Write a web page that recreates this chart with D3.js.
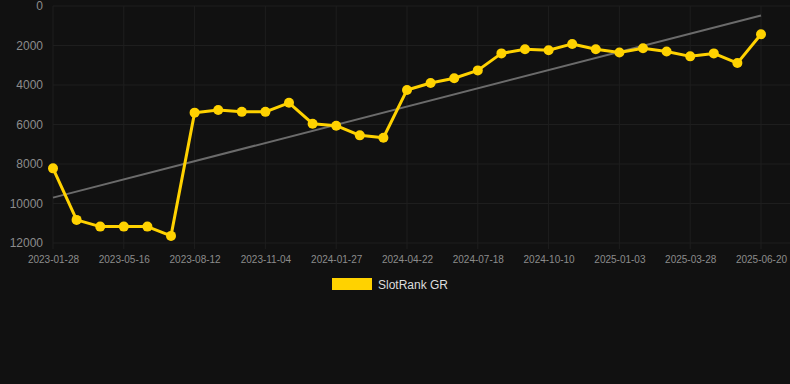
<!DOCTYPE html>
<html>
<meta charset="utf-8">
<head>
  <title>SlotRank GR</title>
</head>

<style>
body { margin: 0; background: #111111; }
text { font-family: "Liberation Sans", Arial, Helvetica, sans-serif; }
.grid line { stroke: #1e1e1e; stroke-width: 1; }
.axis text { fill: #8c8c8c; }
.axis path { display: none; }
.axis line { stroke: #1e1e1e; }
</style>

<body>
  <svg width="790" height="384"></svg>

  <script src="https://cdn.jsdelivr.net/npm/d3@7"></script>
  <script>
// dates of each point (only every 3rd one is labelled)
var dates = [
  '2023-01-28', '2023-03-05', '2023-04-10', '2023-05-16', '2023-06-14', '2023-07-13',
  '2023-08-12', '2023-09-09', '2023-10-07', '2023-11-04', '2023-12-02', '2023-12-30',
  '2024-01-27', '2024-02-25', '2024-03-24', '2024-04-22', '2024-05-21', '2024-06-19',
  '2024-07-18', '2024-08-15', '2024-09-12', '2024-10-10', '2024-11-07', '2024-12-05',
  '2025-01-03', '2025-01-31', '2025-02-28', '2025-03-28', '2025-04-25', '2025-05-23',
  '2025-06-20'
];

var ranks = [
  8220, 10830, 11170, 11170, 11170, 11640,
  5400, 5270, 5360, 5360, 4900, 5960,
  6060, 6550, 6670, 4250, 3900, 3660,
  3260, 2400, 2190, 2240, 1920, 2190,
  2350, 2140, 2300, 2550, 2400, 2890,
  1430
];

var yTicks = [0, 2000, 4000, 6000, 8000, 10000, 12000];
var seriesName = 'SlotRank GR';

var svg = d3.select('svg');
var padL = 53, padR = 761, padT = 6, padB = 243;

var x = d3.scalePoint()
  .domain(dates)
  .range([padL, padR]);

// rank axis: 0 at the top
var y = d3.scaleLinear()
  .domain([0, 12000])
  .range([padT, padB]);

var shown = dates.filter(function(d, i) { return i % 3 === 0; });

// grid
var grid = svg.append('g').attr('class', 'grid');
grid.selectAll('.h')
  .data(yTicks)
  .enter()
  .append('line')
  .attr('x1', padL).attr('x2', 790)
  .attr('y1', function(d) { return y(d); })
  .attr('y2', function(d) { return y(d); });
grid.selectAll('.v')
  .data(shown)
  .enter()
  .append('line')
  .attr('x1', function(d) { return x(d); })
  .attr('x2', function(d) { return x(d); })
  .attr('y1', padT).attr('y2', padB + 6);

// axes
svg.append('g')
  .attr('class', 'axis')
  .attr('transform', 'translate(' + (padL - 10) + ',0)')
  .call(d3.axisLeft(y).tickValues(yTicks).tickSize(0).tickPadding(0).tickFormat(d3.format('d')))
  .selectAll('text')
  .style('font-size', '12px');

svg.append('g')
  .attr('class', 'axis')
  .attr('transform', 'translate(0,' + padB + ')')
  .call(d3.axisBottom(x).tickValues(shown).tickSize(0).tickPadding(13))
  .selectAll('text')
  .style('font-size', '10px');

// least squares trend
var n = ranks.length;
var mx = d3.mean(ranks, function(d, i) { return i; });
var my = d3.mean(ranks);
var sxy = d3.sum(ranks, function(d, i) { return (i - mx) * (d - my); });
var sxx = d3.sum(ranks, function(d, i) { return (i - mx) * (i - mx); });
var slope = sxy / sxx;
var icept = my - slope * mx;

svg.append('line')
  .attr('x1', x(dates[0]))
  .attr('y1', y(icept))
  .attr('x2', x(dates[n - 1]))
  .attr('y2', y(icept + slope * (n - 1)))
  .attr('stroke', '#6b6b6b')
  .attr('stroke-width', 2);

// series
var line = d3.line()
  .x(function(d, i) { return x(dates[i]); })
  .y(function(d) { return y(d); });

svg.append('path')
  .datum(ranks)
  .attr('d', line)
  .attr('fill', 'none')
  .attr('stroke', '#ffd200')
  .attr('stroke-width', 3)
  .attr('stroke-linejoin', 'round');

svg.selectAll('circle')
  .data(ranks)
  .enter()
  .append('circle')
  .attr('cx', function(d, i) { return x(dates[i]); })
  .attr('cy', function(d) { return y(d); })
  .attr('r', 5)
  .attr('fill', '#ffd200');

// legend
svg.append('rect')
  .attr('x', 332).attr('y', 278)
  .attr('width', 40).attr('height', 12)
  .attr('fill', '#ffd200');
svg.append('text')
  .attr('x', 378).attr('y', 289)
  .style('font-size', '12px')
  .style('fill', '#dddddd')
  .text(seriesName);
  </script>
</body>
</html>
